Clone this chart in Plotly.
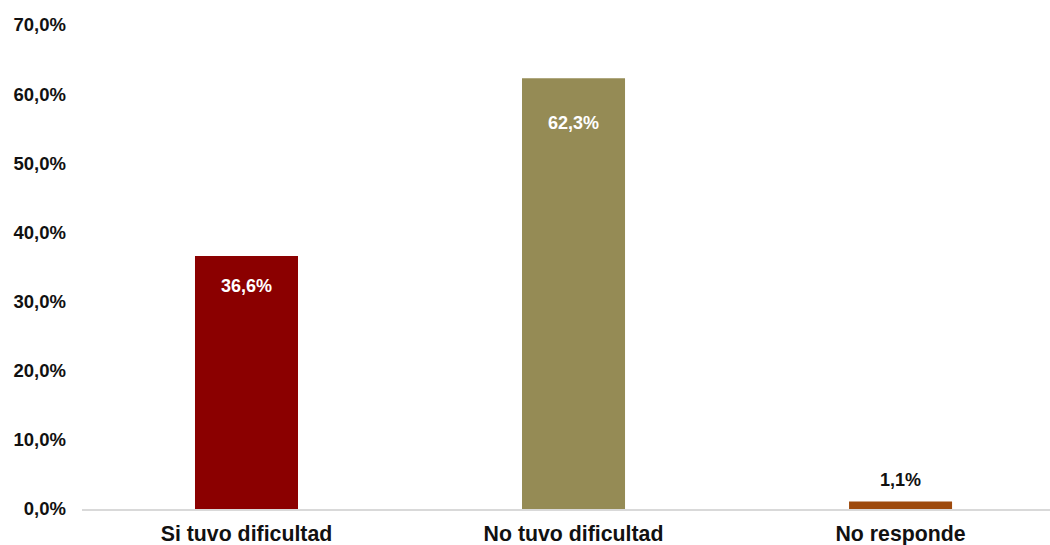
import plotly.graph_objects as go

# Data
categories = ["Si tuvo dificultad", "No tuvo dificultad", "No responde"]
values = [36.6, 62.3, 1.1]
y_ticks = [0, 10, 20, 30, 40, 50, 60, 70]

# Style
bar_colors = ["#8B0000", "#958B55", "#9E4A0D"]
label_colors = ["white", "white", "#111111"]
label_shift = [-30, -45, 21]
FONT = "Liberation Sans, Arial, sans-serif"


def fmt(v):
    return f"{v:.1f}".replace(".", ",") + "%"


fig = go.Figure()
fig.add_trace(go.Bar(
    x=categories,
    y=values,
    marker=dict(color=bar_colors, line=dict(width=0)),
    width=0.315,
    hoverinfo="skip",
))

for c, v, col, sh in zip(categories, values, label_colors, label_shift):
    fig.add_annotation(
        x=c, y=v, text=fmt(v), showarrow=False, yshift=sh,
        font=dict(family=FONT, size=18, color=col, weight="bold"),
        xanchor="center", yanchor="middle",
    )

fig.update_layout(
    width=1050, height=545,
    margin=dict(l=82, r=0, t=25, b=36, pad=0),
    paper_bgcolor="white", plot_bgcolor="white",
    showlegend=False,
    font=dict(family=FONT, color="#111111"),
)
fig.update_xaxes(
    range=[-0.503, 2.457], automargin=False,
    showgrid=False, zeroline=False,
    showline=True, linecolor="#D9D9D9", linewidth=2,
    ticks="", ticklabelstandoff=4,
    tickfont=dict(family=FONT, size=21.3, color="#111111", weight="bold"),
)
fig.update_yaxes(
    range=[0, 70], automargin=False,
    tickvals=y_ticks, ticktext=[fmt(t) for t in y_ticks],
    showgrid=False, zeroline=False, showline=False,
    ticks="", ticklabelstandoff=15,
    tickfont=dict(family=FONT, size=18.5, color="#111111", weight="bold"),
)

fig.write_html(
    "out.html",
    config={"displayModeBar": False},
    post_script="document.body.style.margin='0';document.body.style.overflow='hidden';",
)
